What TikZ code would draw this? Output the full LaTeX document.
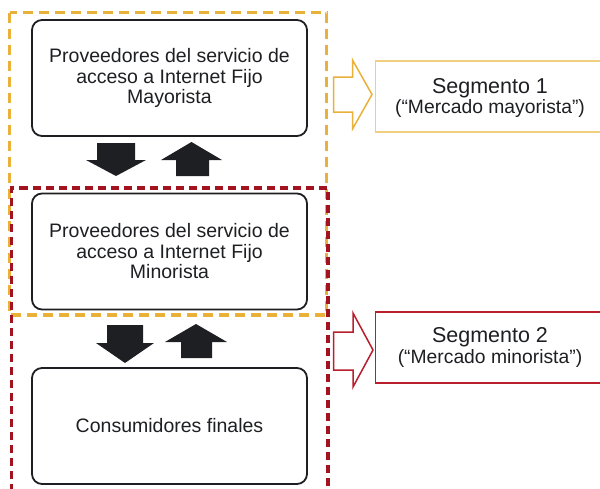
\documentclass[tikz,border=0pt]{standalone}
\usepackage{fontspec}
\setmainfont{Liberation Sans}
\definecolor{ygold}{HTML}{E9B13A}
\definecolor{yglight}{HTML}{F0D080}
\definecolor{dred}{HTML}{A3121F}
\definecolor{sred}{HTML}{B81E2C}
\definecolor{ink}{HTML}{1E1F22}
\begin{document}
\begin{tikzpicture}[x=1pt,y=-1pt,
  box/.style={draw=ink, line width=1.8pt, rounded corners=10pt, minimum width=275pt, minimum height=116pt, align=center, inner sep=0pt,
    font=\fontsize{19.5}{20.5}\selectfont, text=ink},
  segbox/.style={line width=1.8pt},
  ydash/.style={draw=ygold, line width=3.5pt, dash pattern=on 10pt off 6pt},
  rdash/.style={draw=dred, line width=3.5pt, dash pattern=on 8pt off 5pt},
  blk/.style={fill=ink, draw=none},
  hollow/.style={line width=1.5pt, fill=white, line join=miter}]
\useasboundingbox (0,0) rectangle (600,488);
% boxes
\node[box] (b1) at (169.5,78) {Proveedores del servicio de\\acceso a Internet Fijo\\Mayorista};
\node[box] (b2) at (169.5,251.5) {Proveedores del servicio de\\acceso a Internet Fijo\\Minorista};
\node[box] (b3) at (169.5,426) {Consumidores finales};
% dashed groups
\draw[ydash] (9.5,12.5) rectangle (326.5,315);
\draw[rdash] (11.5,492) -- (11.5,188) -- (328,188) -- (328,492);
% black arrows pair 1
\fill[blk] (97,143) -- (135,143) -- (135,160) -- (146,160) -- (116,176) -- (86,160) -- (97,160) -- cycle;
\fill[blk] (176,176) -- (209,176) -- (209,160) -- (222,160) -- (191.5,142) -- (161,160) -- (176,160) -- cycle;
% black arrows pair 2
\fill[blk] (107,325) -- (143,325) -- (143,343) -- (154,343) -- (125,363) -- (96,343) -- (107,343) -- cycle;
\fill[blk] (181,358) -- (212,358) -- (212,342) -- (227,342) -- (196,324) -- (165,342) -- (181,342) -- cycle;
% segment 1
\draw[hollow, draw=ygold] (333.5,77) -- (352.5,77) -- (352.5,60) -- (372,94.5) -- (352.5,129) -- (352.5,112) -- (333.5,112) -- cycle;
\draw[segbox, draw=yglight] (608,61) -- (375.5,61) -- (375.5,132) -- (608,132);
\node[align=center, inner sep=0pt, text=ink] (s1) at (490,98) {{\fontsize{21.5}{23}\selectfont Segmento 1}\\[1pt]{\fontsize{19.3}{20}\selectfont (“Mercado mayorista”)}};
% segment 2
\draw[hollow, draw=sred] (333.5,332) -- (353,332) -- (353,313) -- (373,350) -- (353,387) -- (353,370) -- (333.5,370) -- cycle;
\draw[segbox, draw=sred] (608,312) -- (375.5,312) -- (375.5,383) -- (608,383);
\node[align=center, inner sep=0pt, text=ink] (s2) at (490,347.5) {{\fontsize{21.5}{23}\selectfont Segmento 2}\\[1pt]{\fontsize{19.3}{20}\selectfont (“Mercado minorista”)}};
\end{tikzpicture}
\end{document}
